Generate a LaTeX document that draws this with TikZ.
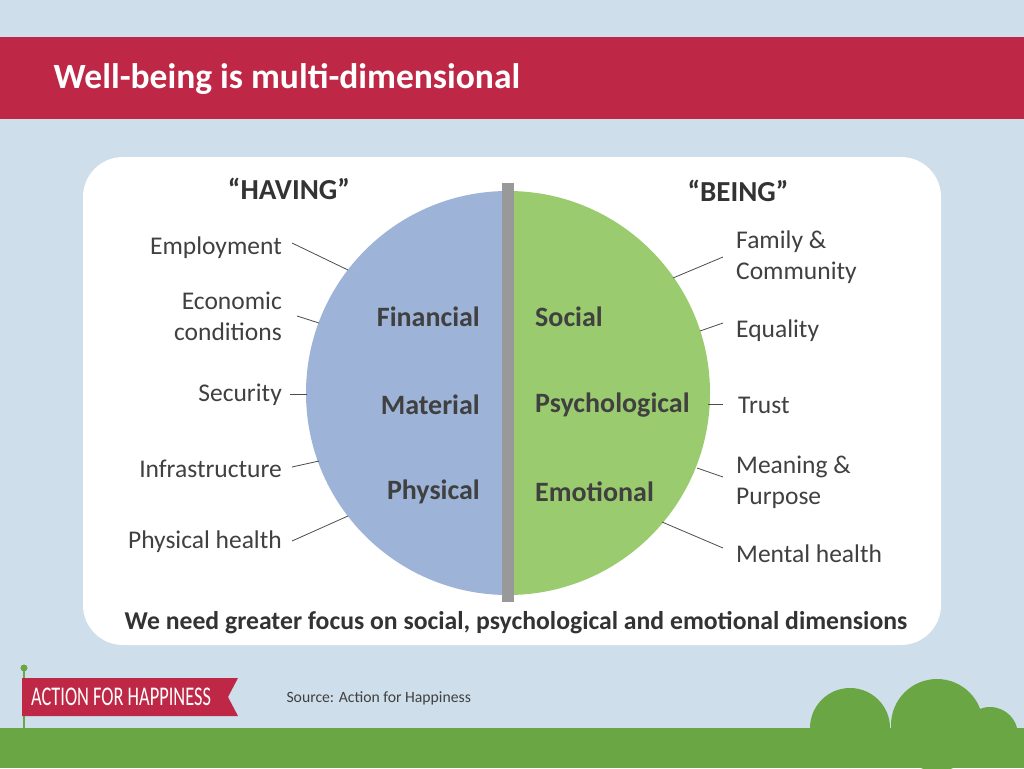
\documentclass[tikz,border=0pt]{standalone}
\usepackage{fontspec}
\setmainfont{Carlito}
\begin{document}
\begin{tikzpicture}[x=1pt,y=-1pt,
 lab/.style={font=\fontsize{25.5}{31}\selectfont,text=black!75,align=left,inner sep=0},
 dim/.style={font=\fontsize{28}{32}\selectfont\bfseries,text=black!75,inner sep=0},
 con/.style={draw=black!70,line width=0.8pt}]
\definecolor{bg}{HTML}{CEDEEA}
\definecolor{red}{HTML}{BE2846}
\definecolor{grn}{HTML}{6BA644}
\definecolor{blu}{HTML}{9DB3D7}
\definecolor{lgrn}{HTML}{9BCB6F}
\fill[bg] (0,0) rectangle (1024,768);
\useasboundingbox (0,0) rectangle (1024,768);
\fill[red] (0,37) rectangle (1024,119);
\node[anchor=west,text=white,font=\fontsize{35.5}{40}\selectfont\bfseries] (title) at (50,79) {Well-being is multi-dimensional};
\fill[white,rounded corners=40pt] (83,157) rectangle (941,645);
\begin{scope}
\clip (300,180) rectangle (508,610);
\fill[blu] (508,393) circle (202);
\end{scope}
\begin{scope}
\clip (508,180) rectangle (720,610);
\fill[lgrn] (508,393) circle (202);
\end{scope}
\fill[black!40] (502,183) rectangle (514,602);
\node[font=\fontsize{29}{33}\selectfont\bfseries,text=black!80] (having) at (289,189) {``HAVING''};
\node[font=\fontsize{29}{33}\selectfont\bfseries,text=black!80] (being) at (738,191) {``BEING''};
\node[dim,anchor=east] (fin) at (480,317) {Financial};
\node[dim,anchor=east] (mat) at (480,405) {Material};
\node[dim,anchor=east] (phy) at (480,492) {Physical};
\node[dim,anchor=west] (soc) at (535,317) {Social};
\node[dim,anchor=west] (psy) at (535,405) {Psychological};
\node[dim,anchor=west] (emo) at (535,492) {Emotional};
\node[lab,anchor=east] (l1) at (282,248) {Employment};
\node[lab,anchor=east,align=right] (l2) at (282,316) {Economic\\conditions};
\node[lab,anchor=east] (l3) at (282,395) {Security};
\node[lab,anchor=east] (l4) at (282,469) {Infrastructure};
\node[lab,anchor=east] (l5) at (282,542) {Physical health};
\node[lab,anchor=west] (r1) at (736,257) {Family \&\\Community};
\node[lab,anchor=west] (r2) at (736,331) {Equality};
\node[lab,anchor=west] (r3) at (738,405) {Trust};
\node[lab,anchor=west] (r4) at (736,482) {Meaning \&\\Purpose};
\node[lab,anchor=west] (r5) at (736,554) {Mental health};
\coordinate (a1) at (292,243); \coordinate (b1) at (348,270);
\coordinate (a2) at (297,316); \coordinate (b2) at (319,323);
\coordinate (a3) at (290,394); \coordinate (b3) at (307,394);
\coordinate (a4) at (292,467); \coordinate (b4) at (319,461);
\coordinate (a5) at (292,541); \coordinate (b5) at (348,516);
\coordinate (c1) at (723,257); \coordinate (d1) at (673,278);
\coordinate (c2) at (723,323); \coordinate (d2) at (700,331);
\coordinate (c3) at (723,404); \coordinate (d3) at (708,404);
\coordinate (c4) at (723,477); \coordinate (d4) at (697,468);
\coordinate (c5) at (723,548); \coordinate (d5) at (662,522);
\foreach \i in {1,...,5}{\draw[con] (a\i)--(b\i); \draw[con] (c\i)--(d\i);}
\node[font=\fontsize{25.7}{30}\selectfont\bfseries,text=black!80] (foot) at (516,623) {We need greater focus on social, psychological and emotional dimensions};
\fill[grn] (850,728) circle (40);
\fill[grn] (937,725) circle (46);
\fill[grn] (990,735) circle (28);
\fill[grn] (0,728) rectangle (1024,768);
\fill[grn] (23,668) rectangle (25,728);
\fill[grn] (24,668) circle (3.5);
\fill[red] (22,678) -- (238,678) -- (228,697) -- (238,716) -- (22,716) -- cycle;
\node[text=white,font=\fontsize{27}{30}\selectfont] (logo) at (121,697) {\scalebox{0.68}[1]{ACTION FOR HAPPINESS}};
\node[anchor=west,text=black!75,font=\fontsize{15.7}{18}\selectfont] (src) at (283,698) {Source: Action for Happiness};
\end{tikzpicture}
\end{document}
